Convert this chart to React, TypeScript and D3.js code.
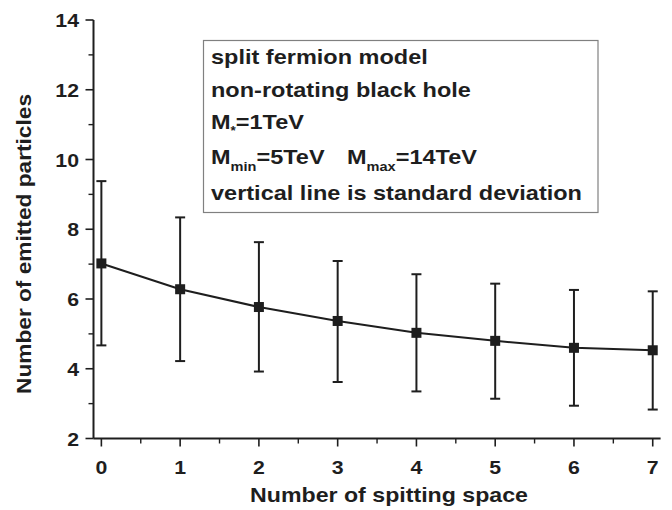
import React from "react";
import * as d3 from "d3";

const xs = [0, 1, 2, 3, 4, 5, 6, 7];
const means = [7.02, 6.28, 5.77, 5.37, 5.03, 4.8, 4.6, 4.53];
const upper = [9.38, 8.34, 7.63, 7.09, 6.71, 6.44, 6.26, 6.22];
const lower = [4.67, 4.22, 3.92, 3.62, 3.35, 3.14, 2.94, 2.83];
const xTicks = [0, 1, 2, 3, 4, 5, 6, 7];
const xMinor = [0.5, 1.5, 2.5, 3.5, 4.5, 5.5, 6.5];
const yTicks = [2, 4, 6, 8, 10, 12, 14];
const yMinor = [3, 5, 7, 9, 11, 13];

const W = 672, H = 510;
const FONT = "'Liberation Sans', Arial, Helvetica, sans-serif";
const INK = "#1e1e1e";

export default function App() {
  const x = d3.scaleLinear().domain([-0.1, 7.1]).range([93.5, 660.6]);
  const y = d3.scaleLinear().domain([2, 14]).range([438.5, 20]);
  const line = d3.line<number>().x((_, i) => x(xs[i])).y(d => y(d));
  const sx = 1.12;
  const T = (px: number, py: number, s = sx) => `translate(${px},${py}) scale(${s},1)`;
  return (
    <svg width={W} height={H} style={{ position: "absolute", left: 0, top: 0, background: "#fff" }}
      fontFamily={FONT} fontWeight="bold">
      {/* axes */}
      <line x1={x(-0.1)} x2={x(7.1)} y1={y(2)} y2={y(2)} stroke={INK} strokeWidth={2} />
      <line x1={x(-0.1)} x2={x(-0.1)} y1={y(2)} y2={y(14)} stroke={INK} strokeWidth={2} />
      {yTicks.map(t => (
        <g key={"yt" + t}>
          <line x1={x(-0.1) - 8} x2={x(-0.1)} y1={y(t)} y2={y(t)} stroke={INK} strokeWidth={1.6} />
          <text transform={T(79, y(t) + 7)} textAnchor="end" fontSize={19} fill={INK}>{t}</text>
        </g>
      ))}
      {yMinor.map(t => (
        <line key={"ym" + t} x1={x(-0.1) - 5} x2={x(-0.1)} y1={y(t)} y2={y(t)} stroke={INK} strokeWidth={1.4} />
      ))}
      {xTicks.map(t => (
        <g key={"xt" + t}>
          <line x1={x(t)} x2={x(t)} y1={y(2)} y2={y(2) + 8} stroke={INK} strokeWidth={1.6} />
          <text transform={T(x(t), 474)} textAnchor="middle" fontSize={19} fill={INK}>{t}</text>
        </g>
      ))}
      {xMinor.map(t => (
        <line key={"xm" + t} x1={x(t)} x2={x(t)} y1={y(2)} y2={y(2) + 5} stroke={INK} strokeWidth={1.4} />
      ))}
      {/* axis titles */}
      <text transform={T(389, 502, 1.13)} textAnchor="middle" fontSize={20.5} fill={INK}>Number of spitting space</text>
      <text transform={`translate(31,244) rotate(-90)`} textAnchor="middle" fontSize={21} fill={INK}
        textLength={300} lengthAdjust="spacingAndGlyphs">Number of emitted particles</text>
      {/* data line */}
      <path d={line(means) || ""} fill="none" stroke={INK} strokeWidth={2} />
      {xs.map((v, i) => (
        <g key={"eb" + i}>
          <line x1={x(v)} x2={x(v)} y1={y(upper[i])} y2={y(lower[i])} stroke={INK} strokeWidth={2} />
          <line x1={x(v) - 5} x2={x(v) + 5} y1={y(upper[i])} y2={y(upper[i])} stroke={INK} strokeWidth={2} />
          <line x1={x(v) - 5} x2={x(v) + 5} y1={y(lower[i])} y2={y(lower[i])} stroke={INK} strokeWidth={2} />
          <rect x={x(v) - 5} y={y(means[i]) - 5} width={10} height={10} fill={INK} />
        </g>
      ))}
      {/* legend box */}
      <rect x={203.5} y={40.5} width={394.5} height={172} fill="#fff" stroke="#808080" strokeWidth={1.2} />
      <g fontSize={21} fill={INK}>
        <text transform={T(211, 64)}>split fermion model</text>
        <text transform={T(211, 97)}>non-rotating black hole</text>
        <text transform={T(211, 129)}>M<tspan fontSize={12} dy={6}>*</tspan><tspan dy={-6}>=1TeV</tspan></text>
        <text transform={T(211, 164)}>M<tspan fontSize={13} dy={7}>min</tspan><tspan dy={-7}>=5TeV</tspan></text>
        <text transform={T(347, 164)}>M<tspan fontSize={13} dy={7}>max</tspan><tspan dy={-7}>=14TeV</tspan></text>
        <text transform={T(211, 200)}>vertical line is standard deviation</text>
      </g>
    </svg>
  );
}
